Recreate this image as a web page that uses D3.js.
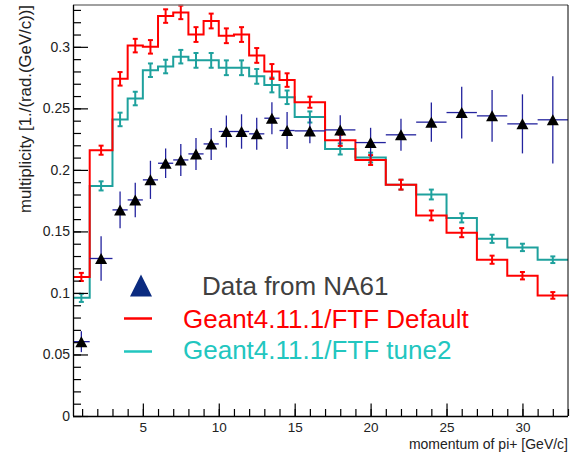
<!DOCTYPE html>
<html>
<head>
<meta charset="utf-8">
<script src="https://cdn.jsdelivr.net/npm/d3@7"></script>
<style>
  body { margin: 0; background: #fff; }
  text { font-family: "Liberation Sans", Arial, sans-serif; }
</style>
</head>
<body>
<div id="chart-area"></div>
<script>
// Bin edges of momentum (GeV/c)
var edges = [0.4, 1.5, 3, 4, 5, 6, 7, 8, 9, 10, 11, 12, 13, 14, 15, 17, 19, 21, 23, 25, 27, 29, 31, 33];

// Geant4 FTF default
var ftfDefault = [0.113, 0.216, 0.274, 0.301, 0.300, 0.325, 0.328, 0.310, 0.321, 0.309, 0.310, 0.293,
                  0.280, 0.273, 0.255, 0.224, 0.208, 0.188, 0.163, 0.149, 0.127, 0.114, 0.098];
var ftfDefaultErr = [0.0033, 0.0037, 0.0055, 0.0055, 0.0055, 0.0055, 0.0055, 0.006, 0.006, 0.006, 0.006, 0.006,
                     0.006, 0.0055, 0.0045, 0.0045, 0.004, 0.004, 0.004, 0.0037, 0.0033, 0.003, 0.0027];

// Geant4 FTF tune2
var ftfTune2 = [0.096, 0.187, 0.241, 0.258, 0.281, 0.284, 0.292, 0.289, 0.289, 0.283, 0.283, 0.276,
                0.269, 0.259, 0.243, 0.217, 0.210, 0.188, 0.180, 0.161, 0.144, 0.137, 0.127];
var ftfTune2Err = [0.0033, 0.0037, 0.0055, 0.0055, 0.0055, 0.0055, 0.0055, 0.006, 0.006, 0.006, 0.006, 0.006,
                   0.006, 0.0055, 0.0045, 0.0045, 0.004, 0.004, 0.004, 0.0037, 0.0033, 0.003, 0.0027];

// NA61 data
var na61 = [0.0604, 0.128, 0.1675, 0.1756, 0.1919, 0.2054, 0.2081, 0.213, 0.2211, 0.2312, 0.2312, 0.2293,
            0.242, 0.232, 0.2317, 0.2325, 0.2222, 0.2285, 0.2388, 0.2466, 0.2439, 0.2374, 0.2407];
var na61Err = [0.0085, 0.018, 0.015, 0.014, 0.0155, 0.012, 0.013, 0.013, 0.013, 0.013, 0.014, 0.013,
               0.013, 0.015, 0.010, 0.012, 0.012, 0.013, 0.016, 0.021, 0.021, 0.024, 0.0355];

var xMajor = [5, 10, 15, 20, 25, 30];
var yMajor = [0, 0.05, 0.1, 0.15, 0.2, 0.25, 0.3];
var legendLabels = ["Data from NA61", "Geant4.11.1/FTF Default", "Geant4.11.1/FTF tune2"];

var red = "#ff0000";
var teal = "#1ea19d";
var tealText = "#22c6bf";
var blue = "#23239e";

var margin = {top: 5, right: 14, bottom: 39, left: 73};
var width = 582 - margin.left - margin.right;
var height = 455 - margin.top - margin.bottom;

var svg = d3.select("#chart-area")
    .append("svg")
    .attr("width", 582)
    .attr("height", 455);

var g = svg.append("g")
    .attr("transform", "translate(" + margin.left + ", " + margin.top + ")");

// Scales
var x = d3.scaleLinear().domain([0.4, 33]).range([0, width]);
var y = d3.scaleLinear().domain([0, 0.334]).range([height, 0]);

// Bins as objects
function bins(vals, errs) {
    return vals.map((v, i) => {
        return {x0: edges[i], x1: edges[i + 1], v: v, e: errs[i]};
    });
}

// Step histogram with error bars
function drawHist(vals, errs, color) {
    var b = bins(vals, errs);
    var pts = [];
    b.forEach((d) => {
        pts.push([x(d.x0), y(d.v)]);
        pts.push([x(d.x1), y(d.v)]);
    });
    g.append("path")
        .attr("d", d3.line()(pts))
        .attr("fill", "none")
        .attr("stroke", color)
        .attr("stroke-width", 2);

    var eb = g.append("g").attr("stroke", color).attr("stroke-width", 2);
    b.forEach((d) => {
        var cx = x((d.x0 + d.x1) / 2);
        eb.append("line").attr("x1", cx).attr("x2", cx)
            .attr("y1", y(d.v - d.e)).attr("y2", y(d.v + d.e));
        [d.v - d.e, d.v + d.e].forEach((t) => {
            eb.append("line").attr("x1", cx - 2.5).attr("x2", cx + 2.5)
                .attr("y1", y(t)).attr("y2", y(t));
        });
    });
}

drawHist(ftfTune2, ftfTune2Err, teal);
drawHist(ftfDefault, ftfDefaultErr, red);

// Data points
var dataBins = bins(na61, na61Err);
var de = g.append("g").attr("stroke", blue).attr("stroke-width", 1.3);
dataBins.forEach((d) => {
    var cx = x((d.x0 + d.x1) / 2);
    de.append("line").attr("x1", x(d.x0)).attr("x2", x(d.x1))
        .attr("y1", y(d.v)).attr("y2", y(d.v));
    de.append("line").attr("x1", cx).attr("x2", cx)
        .attr("y1", y(d.v - d.e)).attr("y2", y(d.v + d.e));
});

function triangle(cx, cy, w, h) {
    return "M" + (cx - w / 2) + "," + (cy + h / 2) + "L" + (cx + w / 2) + "," + (cy + h / 2) +
        "L" + cx + "," + (cy - h / 2) + "Z";
}

g.selectAll("path.marker")
    .data(dataBins)
    .enter()
    .append("path")
    .attr("class", "marker")
    .attr("d", (d) => { return triangle(x((d.x0 + d.x1) / 2), y(d.v), 12, 11); })
    .attr("fill", "#000");

// Frame
g.append("line").attr("x1", 0).attr("x2", width).attr("y1", 0).attr("y2", 0)
    .attr("stroke", "#808080").attr("stroke-width", 1.5);
g.append("line").attr("x1", width).attr("x2", width).attr("y1", 0).attr("y2", height)
    .attr("stroke", "#000").attr("stroke-width", 1);

// Axes
var yMinor = d3.range(0, 0.3341, 0.01);
var xMinor = d3.range(1, 33.01, 1);

g.append("g")
    .call(d3.axisLeft(y).tickValues(yMinor).tickSize(-8).tickFormat(""))
    .call((a) => a.select(".domain").remove());
g.append("g")
    .call(d3.axisLeft(y).tickValues(yMajor).tickSize(-15).tickPadding(3)
        .tickFormat((d) => { return d === 0 ? "0" : String(+d.toFixed(2)); }))
    .call((a) => a.select(".domain").attr("d", "M0.5," + height + "V0"));

g.append("g")
    .attr("transform", "translate(0, " + height + ")")
    .call(d3.axisBottom(x).tickValues(xMinor).tickSize(-7).tickFormat(""))
    .call((a) => a.select(".domain").remove());
var xAxis = g.append("g")
    .attr("transform", "translate(0, " + height + ")")
    .call(d3.axisBottom(x).tickValues(xMajor).tickSize(-12.5).tickPadding(6))
    .call((a) => a.select(".domain").attr("d", "M0,0.5H" + width));

g.selectAll(".tick line").attr("stroke-width", 1.2);
g.selectAll(".domain").attr("stroke-width", 1.3);
g.selectAll(".tick text")
    .attr("font-size", "14px")
    .attr("fill", "#222")
    .style("font-family", "Liberation Sans, Arial, sans-serif");
xAxis.selectAll(".tick text").attr("font-size", "13.5px");

// Axis titles
svg.append("text")
    .attr("transform", "rotate(-90)")
    .attr("x", -5)
    .attr("y", 31)
    .attr("text-anchor", "end")
    .attr("font-size", "16.8px")
    .attr("fill", "#222")
    .text("multiplicity [1./(rad.(GeV/c))]");

svg.append("text")
    .attr("x", 568)
    .attr("y", 448.5)
    .attr("text-anchor", "end")
    .attr("font-size", "14px")
    .attr("fill", "#222")
    .text("momentum of pi+ [GeV/c]");

// Legend
svg.append("path")
    .attr("d", triangle(141, 285.5, 22, 22))
    .attr("fill", "#0b2b80");
svg.append("line").attr("x1", 124).attr("x2", 152).attr("y1", 318.5).attr("y2", 318.5)
    .attr("stroke", red).attr("stroke-width", 2.5);
svg.append("line").attr("x1", 124).attr("x2", 152).attr("y1", 351.5).attr("y2", 351.5)
    .attr("stroke", tealText).attr("stroke-width", 2.5);

var legendX = [202, 183, 183];
var legendY = [295, 328, 359];
var legendColor = ["#404040", red, tealText];
svg.selectAll("text.legend")
    .data(legendLabels)
    .enter()
    .append("text")
    .attr("class", "legend")
    .attr("x", (d, i) => { return legendX[i]; })
    .attr("y", (d, i) => { return legendY[i]; })
    .attr("font-size", "26px")
    .attr("fill", (d, i) => { return legendColor[i]; })
    .text((d) => { return d; });
</script>
</body>
</html>
